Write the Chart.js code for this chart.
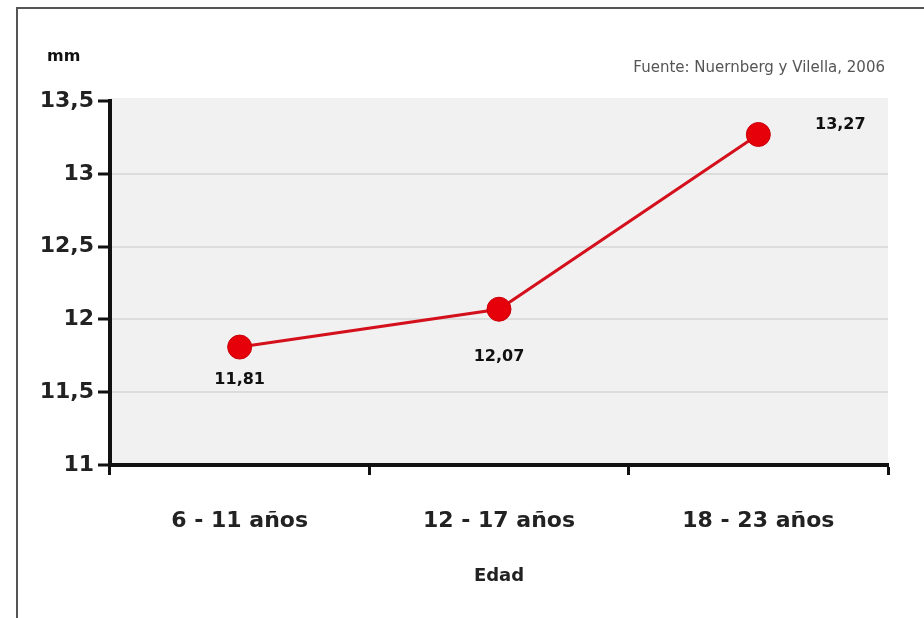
<!DOCTYPE html>
<html>
<head>
<meta charset="utf-8">
<script src="https://cdn.jsdelivr.net/npm/chart.js@4"></script>
<style>
  html, body { margin: 0; padding: 0; background: #fff; }
  #wrap { position: relative; width: 924px; height: 618px; overflow: hidden; }
  #frame {
    position: absolute; left: 16px; top: 7px; width: 1000px; height: 700px;
    border-left: 2px solid #555; border-top: 2px solid #555;
  }
  canvas { position: absolute; left: 0; top: 0; }
</style>
</head>
<body>
<div id="wrap">
  <div id="frame"></div>
  <canvas id="diametroChart" width="924" height="618"></canvas>
</div>
<script>
const categories = ['6 - 11 años', '12 - 17 años', '18 - 23 años'];
const diametro = [11.81, 12.07, 13.27];
const yTicks = [11, 11.5, 12, 12.5, 13, 13.5];

// where each value label sits relative to its point
const labelOffsets = [[0, 33], [0, 48], [82, -10]];

const FONT = '"DejaVu Sans", Verdana, sans-serif';
const fmt = v => String(v).replace('.', ',');

const plotBackground = {
  id: 'plotBackground',
  beforeDraw(chart) {
    const { ctx, chartArea: a } = chart;
    ctx.save();
    ctx.fillStyle = '#f1f1f1';
    ctx.fillRect(a.left, a.top - 3, a.right - a.left, a.bottom - a.top + 3);
    ctx.restore();
  }
};

const extraText = {
  id: 'extraText',
  afterDraw(chart) {
    const { ctx } = chart;
    ctx.save();
    ctx.fillStyle = '#111';
    ctx.font = 'bold 16px ' + FONT;
    ctx.textAlign = 'left';
    ctx.textBaseline = 'middle';
    ctx.fillText('mm', 47, 57);

    ctx.fillStyle = '#555';
    ctx.font = '15px ' + FONT;
    ctx.textAlign = 'right';
    ctx.fillText('Fuente: Nuernberg y Vilella, 2006', 885, 68);

    // value labels next to the points
    const meta = chart.getDatasetMeta(0);
    ctx.fillStyle = '#111';
    ctx.font = 'bold 16px ' + FONT;
    ctx.textAlign = 'center';
    meta.data.forEach((pt, i) => {
      const [dx, dy] = labelOffsets[i];
      ctx.fillText(fmt(diametro[i]), pt.x + dx, pt.y + dy);
    });
    ctx.restore();
  }
};

new Chart(document.getElementById('diametroChart'), {
  type: 'line',
  data: {
    labels: categories,
    datasets: [{
      data: diametro,
      borderColor: '#d4101c',
      borderWidth: 3,
      pointRadius: 12,
      pointHoverRadius: 12,
      pointBackgroundColor: '#e6000a',
      pointBorderColor: '#c8000a',
      pointBorderWidth: 1,
      tension: 0
    }]
  },
  options: {
    responsive: false,
    animation: false,
    layout: { padding: { top: 101, right: 36, left: 20, bottom: 20 } },
    plugins: { legend: { display: false }, tooltip: { enabled: false } },
    scales: {
      x: {
        offset: true,
        afterFit(scale) { scale.height = 133; },
        grid: {
          offset: true,
          drawOnChartArea: false,
          drawTicks: true,
          tickLength: 10,
          tickWidth: 3,
          tickColor: '#111'
        },
        border: { color: '#111', width: 4 },
        ticks: {
          padding: 33,
          color: '#222',
          font: { family: FONT, size: 22, weight: 'bold' }
        },
        title: {
          display: true,
          text: 'Edad',
          color: '#222',
          padding: { top: 0, bottom: 11 },
          font: { family: FONT, size: 18, weight: 'bold' }
        }
      },
      y: {
        min: 11,
        max: 13.5,
        afterFit(scale) { scale.width = 90; },
        afterBuildTicks(scale) { scale.ticks = yTicks.map(v => ({ value: v })); },
        grid: {
          color: ctx => (ctx.tick && ctx.tick.value === 13.5 ? 'rgba(0,0,0,0)' : '#dcdcdc'),
          lineWidth: 2,
          drawTicks: true,
          tickLength: 12,
          tickWidth: 3,
          tickColor: '#111'
        },
        border: { color: '#111', width: 4 },
        ticks: {
          padding: 4,
          color: '#222',
          callback: v => fmt(v),
          font: { family: FONT, size: 22, weight: 'bold' }
        }
      }
    }
  },
  plugins: [plotBackground, extraText]
});
</script>
</body>
</html>
